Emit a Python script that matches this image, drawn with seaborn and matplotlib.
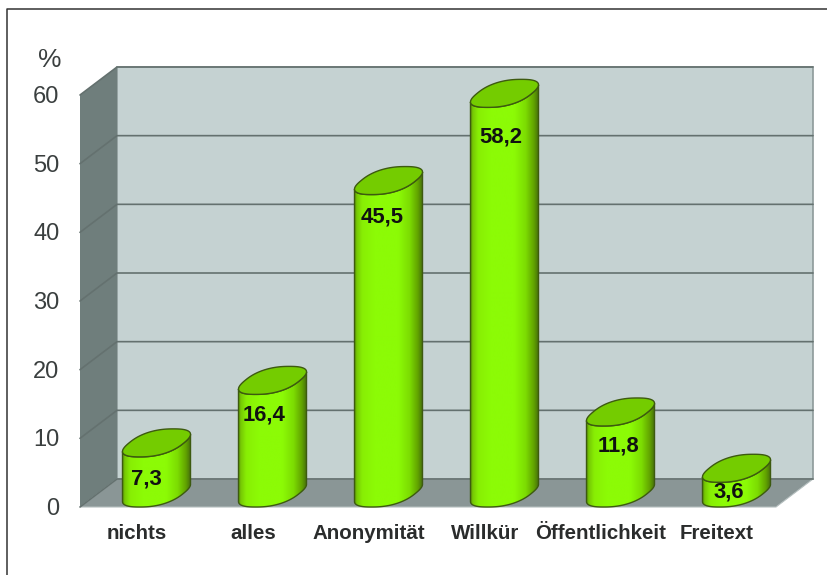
import numpy as np
import pandas as pd
import matplotlib
matplotlib.use("Agg")
import matplotlib.pyplot as plt
import seaborn as sns
from matplotlib.colors import LinearSegmentedColormap
from matplotlib.lines import Line2D
from matplotlib.patches import PathPatch, Polygon
from matplotlib.path import Path
from matplotlib.transforms import ScaledTranslation

categories = ["nichts", "alles", "Anonymität", "Willkür", "Öffentlichkeit", "Freitext"]
values = [7.3, 16.4, 45.5, 58.2, 11.8, 3.6]
value_labels = ["7,3", "16,4", "45,5", "58,2", "11,8", "3,6"]
y_ticks = [0, 10, 20, 30, 40, 50, 60]

# label offsets from the top of each cylinder, in pixels
label_dx = [-10, -8, -6, -4, -2, -8]
label_dy = [-36, -35, -36, -44, -34, -24]

W, H = 828, 575
sns.set_theme(style="white")
plt.rcParams["font.family"] = ["Liberation Sans", "DejaVu Sans"]

fig = plt.figure(figsize=(W / 100, H / 100), dpi=100, facecolor="white")
L, R, B, T = 98.5, 794.5, 493.0, 81.0
ax = fig.add_axes([L / W, 1 - B / H, (R - L) / W, (B - T) / H])
df = pd.DataFrame({"cat": categories, "val": values})
sns.barplot(data=df, x="cat", y="val", ax=ax, width=0.586, color="#8cf500", zorder=5)
bars = list(ax.patches)
ax.set_xlim(-0.5, 5.5)
ax.set_ylim(0, 60)
ax.set_xlabel("")
ax.set_ylabel("")
for s in ax.spines.values():
    s.set_visible(False)

px_x = 6.0 / (R - L)        # category units per pixel
px_y = 60.0 / (B - T)       # value units per pixel
dx, dy = 18.5 * px_x, 14.0 * px_y   # half depth of the box
x0, x1 = -0.5, 5.5

back = "#c5d2d2"
side = "#6f7e7c"
floor = "#8a9696"
grid = "#64716f"

ax.add_patch(Polygon([(x0 + dx, dy), (x1 + dx, dy), (x1 + dx, 60 + dy), (x0 + dx, 60 + dy)],
                     fc=back, ec="#8d9a9a", lw=1.2, zorder=1, clip_on=False))
ax.add_patch(Polygon([(x0 - dx, -dy), (x0 + dx, dy), (x0 + dx, 60 + dy), (x0 - dx, 60 - dy)],
                     fc=side, ec="none", zorder=1, clip_on=False))
ax.add_patch(Polygon([(x0 - dx, -dy), (x1 - dx, -dy), (x1 + dx, dy), (x0 + dx, dy)],
                     fc=floor, ec="#b4bebe", lw=0.8, zorder=1, clip_on=False))
for v in y_ticks:
    ax.plot([x0 - dx, x0 + dx, x1 + dx], [v - dy, v + dy, v + dy], color=grid, lw=1.2,
            zorder=2, clip_on=False, solid_joinstyle="miter")

cmap = LinearSegmentedColormap.from_list("cyl", [
    (0.0, "#55880a"), (0.04, "#76c804"), (0.12, "#88ee04"), (0.3, "#8cfb06"),
    (0.65, "#8cfb06"), (0.82, "#7cdc02"), (0.94, "#62a400"), (1.0, "#4a780a")])
grad = np.linspace(0, 1, 256).reshape(1, -1)

# rim of a cylinder: a slightly full ellipse sheared along the depth of the box
half_px = 34.0
t = np.linspace(0, 2 * np.pi, 361)
u = np.sign(np.cos(t)) * np.abs(np.cos(t)) ** 0.82
w = np.sign(np.sin(t)) * np.abs(np.sin(t)) ** 0.82
raw = u + (18.5 / 30.0) * w
rc = half_px * px_x / np.abs(raw).max()
rim_x = rc * u + (18.5 / 30.0) * rc * w
rim_y = dy * w
i_r = int(np.argmax(rim_x))
i_l = int(np.argmin(rim_x))
idx = np.arange(i_l, i_r + 361) % 361 if i_l > i_r else np.arange(i_l, i_r + 1)
half_w = half_px * px_x

for rect, lab, ldx, ldy in zip(bars, value_labels, label_dx, label_dy):
    cx = rect.get_x() + rect.get_width() / 2
    h = rect.get_height()
    rect.set_visible(False)
    bx, by = cx + rim_x[idx], rim_y[idx]
    body = np.vstack([np.c_[bx, by], np.c_[bx[::-1], by[::-1] + h]])
    body_path = Path(np.vstack([body, body[0]]), closed=True)
    im = ax.imshow(grad, cmap=cmap, aspect="auto", vmin=0, vmax=1, zorder=5,
                   extent=(cx - half_w, cx + half_w, -dy, h + dy), interpolation="bilinear")
    im.set_clip_box(fig.bbox)
    im.set_clip_path(body_path, ax.transData)
    ax.add_patch(PathPatch(body_path, fc="none", ec="#3d5a10", lw=1.0, zorder=6, clip_on=False))
    ax.add_patch(Polygon(np.c_[cx + rim_x, h + rim_y],
                         fc="#74cc00", ec="#3d5a10", lw=1.0, zorder=7, clip_on=False))
    ax.annotate(lab, (cx, h), xytext=(ldx * 0.72, ldy * 0.72), textcoords="offset points",
                ha="center", va="center", fontsize=15.9, fontweight="bold",
                color="#111111", zorder=8)

ax.set_xlim(-0.5, 5.5)
ax.set_ylim(0, 60)
ax.set_yticks(y_ticks)
ax.set_yticklabels([str(v) for v in y_ticks], fontsize=17, color="#3a3f3f")
ax.set_xticks(range(len(categories)))
ax.set_xticklabels(categories, fontsize=14.8, fontweight="bold", color="#2a2c2c")
ax.tick_params(axis="y", length=0, pad=28)
ax.tick_params(axis="x", length=0, pad=22.4)
ytrans = ScaledTranslation(0, -13.5 / 100, fig.dpi_scale_trans)
xtrans = ScaledTranslation(-19.5 / 100, 0, fig.dpi_scale_trans)
for lb in ax.get_yticklabels():
    lb.set_transform(lb.get_transform() + ytrans)
for lb in ax.get_xticklabels():
    lb.set_transform(lb.get_transform() + xtrans)

fig.text(50 / W, 1 - 60 / H, "%", fontsize=19, color="#3a3f3f", ha="center", va="center")

fig.add_artist(Line2D([7.5 / W, 7.5 / W, 1], [0, 1 - 8.5 / H, 1 - 8.5 / H], color="#333333", lw=1.1))

fig.savefig("out.png", dpi=100)
